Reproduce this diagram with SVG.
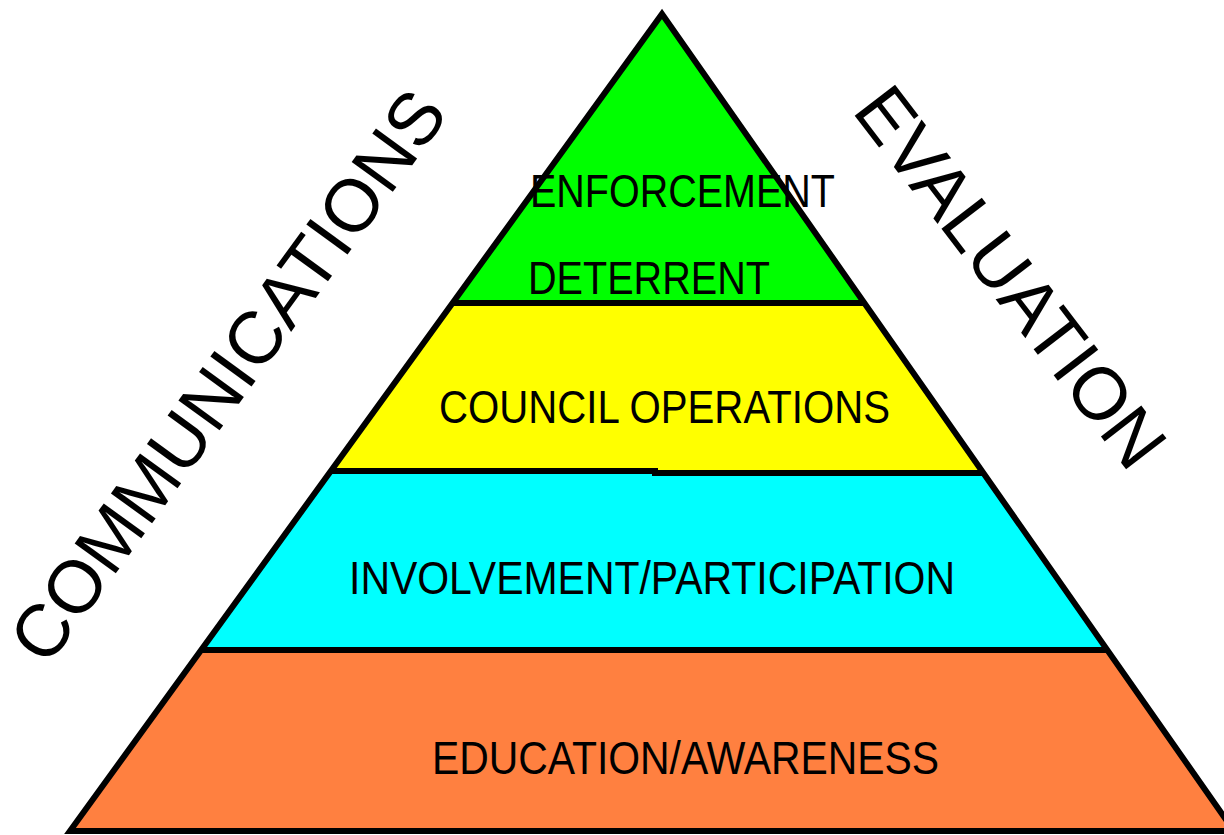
<svg xmlns="http://www.w3.org/2000/svg" width="1224" height="835" viewBox="0 0 1224 835">
<style>
.lbl{font-family:"Liberation Sans",Arial,sans-serif;font-size:46px;fill:#000}
.side{font-family:"Liberation Sans",Arial,sans-serif;font-size:74px;fill:#000}
.sep{stroke:#000;stroke-width:6;fill:none}
</style>
<rect width="1224" height="835" fill="#fff"/>
<g id="layer-enforcement">
<polygon points="662,14 453,303 864,303" fill="#00ff00"/>
</g>
<g id="layer-council">
<polygon points="453,303 864,303 983,472 330,472" fill="#ffff00"/>
</g>
<g id="layer-involvement">
<polygon points="330,472 983,472 1107,650 201,650" fill="#00ffff"/>
</g>
<g id="layer-education">
<polygon points="201,650 1107,650 1234,831 70,831" fill="#ff8040"/>
</g>
<g id="outline">
<polygon points="662,14 1234,831 70,831" fill="none" stroke="#000" stroke-width="6" stroke-linejoin="miter"/>
<line class="sep" x1="453" y1="303" x2="864" y2="303"/>
<polyline class="sep" points="330,471 655,471 655,473 983,473"/>
<line class="sep" x1="201" y1="650" x2="1107" y2="650"/>
</g>
<g id="labels">
<text class="lbl" x="530" y="207" textLength="305" lengthAdjust="spacingAndGlyphs">ENFORCEMENT</text>
<text class="lbl" x="528" y="294" textLength="242" lengthAdjust="spacingAndGlyphs">DETERRENT</text>
<text class="lbl" x="439" y="423" textLength="451" lengthAdjust="spacingAndGlyphs">COUNCIL OPERATIONS</text>
<text class="lbl" x="349" y="594" textLength="606" lengthAdjust="spacingAndGlyphs">INVOLVEMENT/PARTICIPATION</text>
<text class="lbl" x="432" y="774" textLength="507" lengthAdjust="spacingAndGlyphs">EDUCATION/AWARENESS</text>
</g>
<g id="communications">
<text class="side" x="47" y="668" transform="rotate(-54 47 668)">COMMUNICATIONS</text>
</g>
<g id="evaluation">
<text class="side" x="851" y="111" transform="rotate(52.5 851 111)" font-size="73">EVALUATION</text>
</g>
</svg>
